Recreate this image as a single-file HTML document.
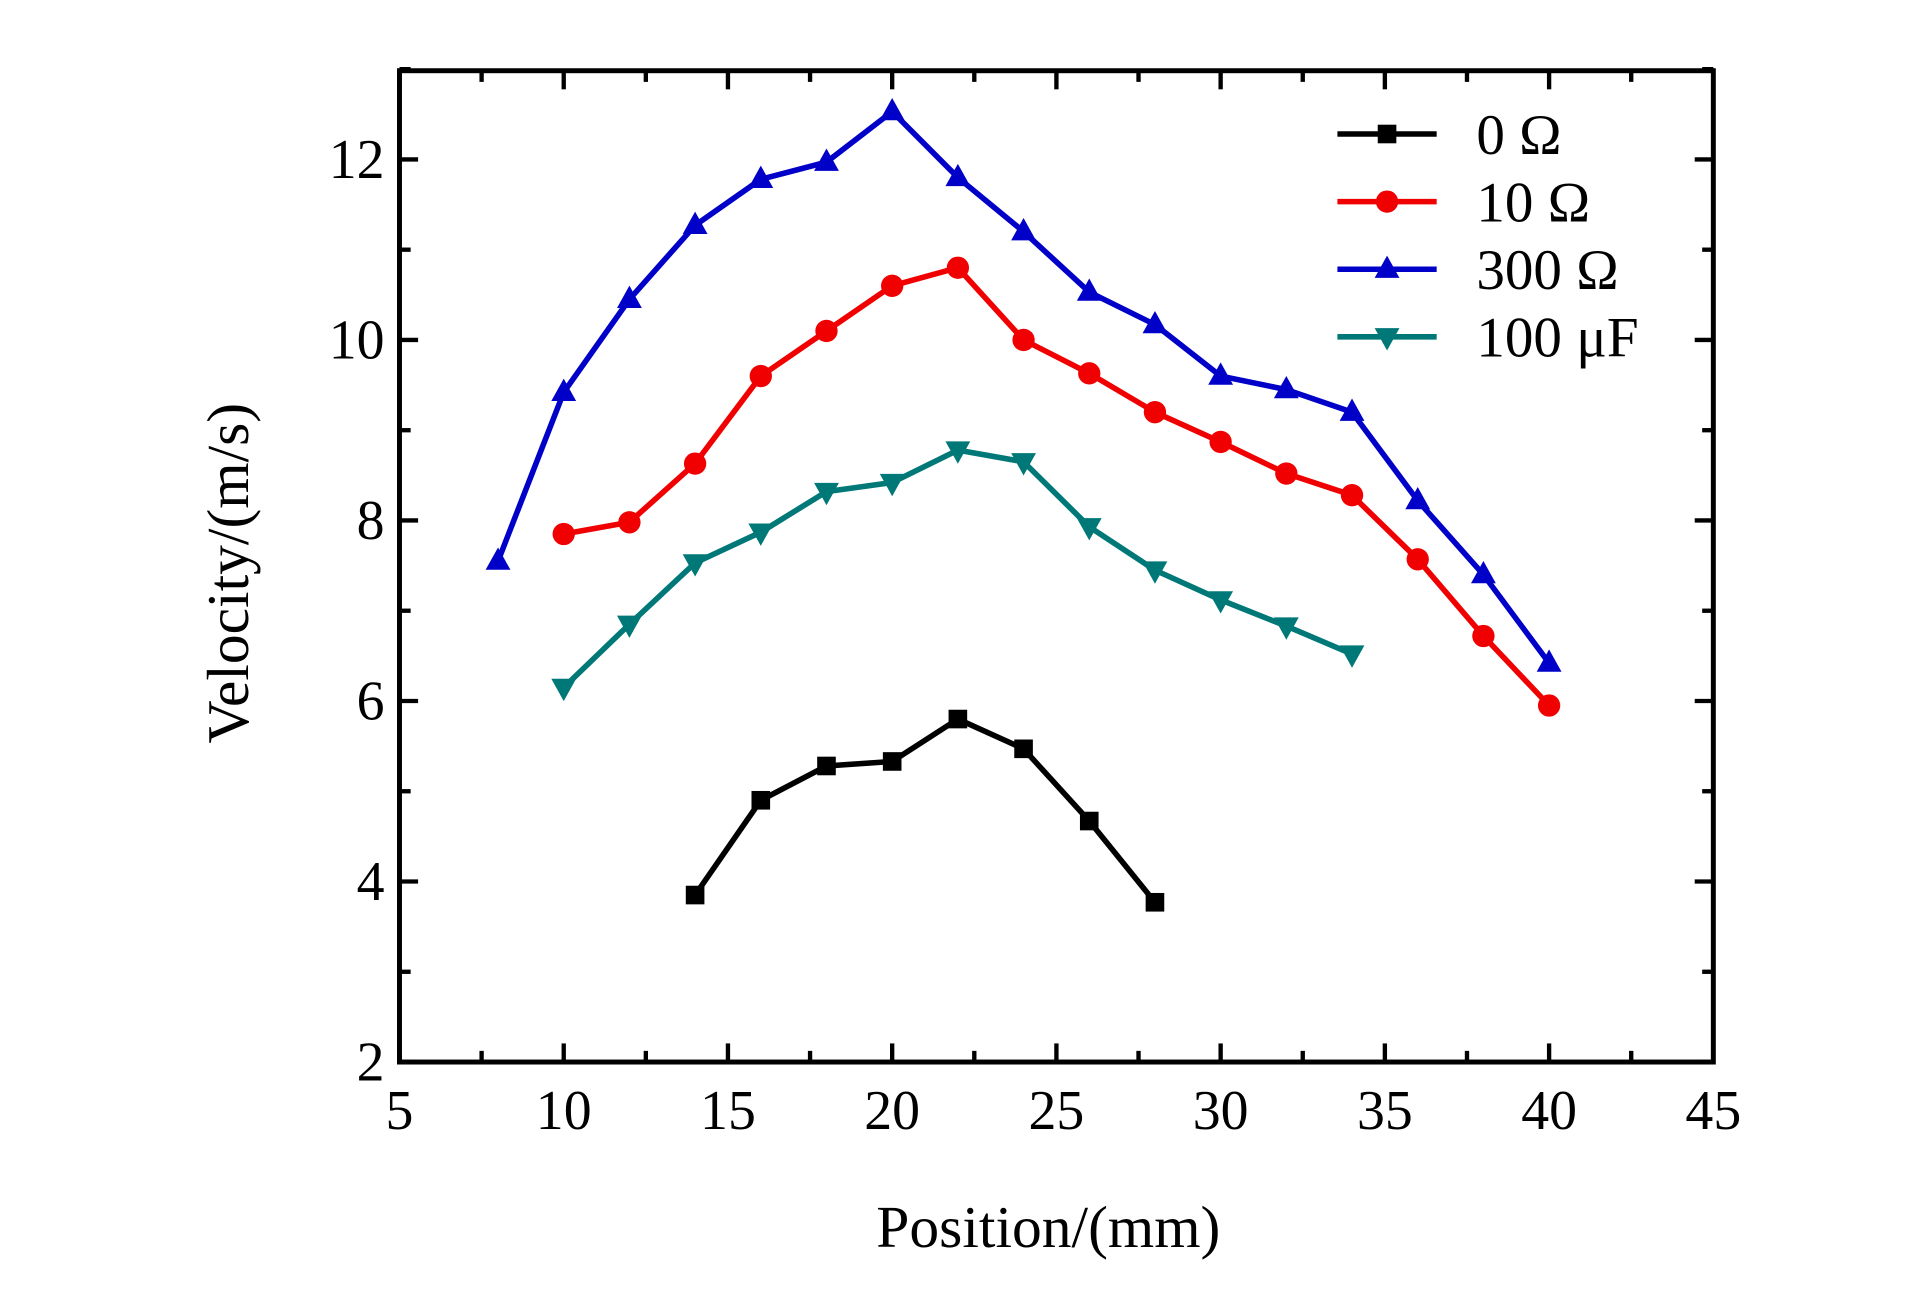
<!DOCTYPE html>
<html><head><meta charset="utf-8"><style>html,body{margin:0;padding:0;background:#fff}svg{display:block}</style></head>
<body>
<svg id="chart" width="1923" height="1299" viewBox="0 0 1550 1047" preserveAspectRatio="none" xmlns="http://www.w3.org/2000/svg" font-family="'Liberation Serif', serif">
<g id="axes"></g>
<g id="series"></g>
<g id="legend"></g>
<text x="845" y="1005" font-size="48" text-anchor="middle">Position/(mm)</text>
<text transform="translate(200,462) rotate(-90)" font-size="48" text-anchor="middle">Velocity/(m/s)</text>
</svg>
<script>
const xTicks=[5,10,15,20,25,30,35,40,45];
const yTicks=[2,4,6,8,10,12];
const seriesNames=["0 Ω","10 Ω","300 Ω","100 μF"];
const x0=[14,16,18,20,22,24,26,28];
const y0=[3.85,4.9,5.28,5.33,5.8,5.47,4.67,3.77];
const x10=[10,12,14,16,18,20,22,24,26,28,30,32,34,36,38,40];
const y10=[7.85,7.98,8.63,9.6,10.1,10.6,10.8,10.0,9.63,9.2,8.87,8.52,8.28,7.57,6.72,5.95];
const x300=[8,10,12,14,16,18,20,22,24,26,28,30,32,34,36,38,40];
const y300=[7.55,9.42,10.45,11.27,11.78,11.97,12.53,11.8,11.2,10.53,10.17,9.6,9.45,9.2,8.22,7.4,6.42];
const xC=[10,12,14,16,18,20,22,24,26,28,30,32,34];
const yC=[6.15,6.85,7.53,7.87,8.32,8.42,8.78,8.65,7.93,7.45,7.12,6.83,6.52];

const L=322,R=1381,T=57,B=856;
const X=v=>L+(v-5)*(R-L)/40;
const Y=v=>B-(v-2)*72.75;
const NS="http://www.w3.org/2000/svg";
function mk(tag,attrs,parent){const e=document.createElementNS(NS,tag);for(const k in attrs)e.setAttribute(k,attrs[k]);parent.appendChild(e);return e;}
const axes=document.getElementById('axes');
const frame=mk('rect',{x:L,y:T,width:R-L,height:B-T,fill:'none',stroke:'#000','stroke-width':4},axes);


for(let v=5;v<=45;v+=2.5){const major=(v%5===0);const len=major?15:9;
 const t1=mk('line',{x1:X(v),x2:X(v),y1:B,y2:B-len,stroke:'#000','stroke-width':3.5},axes);
 
 
 const t2=mk('line',{x1:X(v),x2:X(v),y1:T,y2:T+len,stroke:'#000','stroke-width':3.5},axes);
 
 }
for(let v=2;v<=13;v+=1){const major=(v%2===0);const len=major?15:9;
 const t1=mk('line',{y1:Y(v),y2:Y(v),x1:L,x2:L+len,stroke:'#000','stroke-width':3.5},axes);
 
 
 const t2=mk('line',{y1:Y(v),y2:Y(v),x1:R,x2:R-len,stroke:'#000','stroke-width':3.5},axes);
 
 }
xTicks.forEach(v=>{const t=mk('text',{x:X(v),y:B+54,'font-size':45,'text-anchor':'middle'},axes);t.textContent=v;
 
 });
yTicks.forEach(v=>{const t=mk('text',{x:L-12,y:Y(v)+15,'font-size':45,'text-anchor':'end'},axes);t.textContent=v;
 
 });

function marker(g,shape,cx,cy,color){
 if(shape==='sq')return mk('rect',{x:cx-7.5,y:cy-7.5,width:15,height:15,fill:color},g);
 if(shape==='ci')return mk('circle',{cx:cx,cy:cy,r:9,fill:color},g);
 if(shape==='up')return mk('polygon',{points:`${cx},${cy-11} ${cx+10},${cy+7} ${cx-10},${cy+7}`,fill:color},g);
 return mk('polygon',{points:`${cx},${cy+11} ${cx+10},${cy-7} ${cx-10},${cy-7}`,fill:color},g);}
const defs=[[x0,y0,'#000','sq','series-0-ohm'],[x10,y10,'#f00000','ci','series-10-ohm'],[x300,y300,'#0000c8','up','series-300-ohm'],[xC,yC,'#007878','dn','series-100-uf']];
const sg=document.getElementById('series');
defs.forEach(([xs,ys,c,s,n])=>{const g=mk('g',{},sg);
 
 
 const ln=mk('polyline',{points:xs.map((x,i)=>X(x)+','+Y(ys[i])).join(' '),fill:'none',stroke:c,'stroke-width':4.5,'stroke-linejoin':'round'},g);
 
 
 xs.forEach((x,i)=>{const m=marker(g,s,X(x),Y(ys[i]),c);
  
  });});
const lg=document.getElementById('legend');
defs.forEach(([xs,ys,c,s,n],i)=>{const yy=108+i*54.5;const g=mk('g',{},lg);
 
 
 mk('line',{x1:1078,x2:1158,y1:yy,y2:yy,stroke:c,'stroke-width':4.5},g);
 marker(g,s,1118,yy,c);
 const t=mk('text',{x:1190,y:yy+16,'font-size':46},g);t.textContent=seriesNames[i];});
</script>
</body></html>
